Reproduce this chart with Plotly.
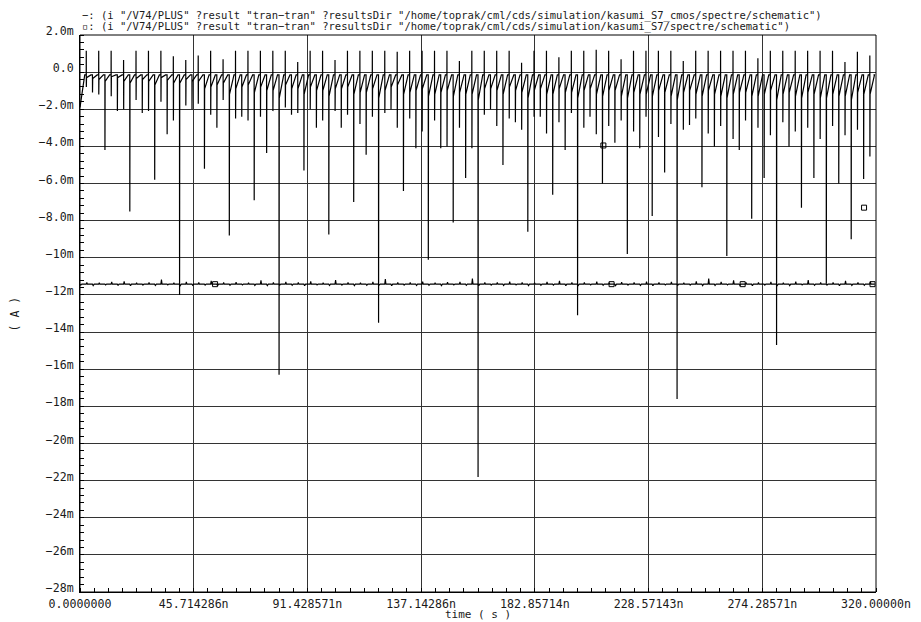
import plotly.graph_objects as go

# ---------------- data (time in ns, current in mA) ----------------
half_period_ns = 2.5
n_cycles = 64

# series 1 (kasumi_S7_cmos): minimum of downward spike at t = 0, 5, 10 ... 315 ns
dip_even = [-1.9, -1.1, -4.2, -2.1, -7.5, -2.2, -5.8, -3.35, -12.0, -2.0,
            -5.2, -3.0, -8.8, -2.4, -6.9, -4.35, -16.3, -2.3, -5.3, -3.0,
            -8.75, -3.0, -7.0, -4.45, -13.5, -2.0, -6.4, -4.1, -10.1, -4.1,
            -8.1, -5.7, -21.8, -2.0, -5.0, -2.7, -8.6, -2.4, -6.6, -4.2,
            -13.1, -2.4, -6.0, -3.8, -9.8, -4.1, -7.75, -5.4, -17.6, -2.85,
            -6.2, -4.0, -9.9, -4.2, -7.9, -5.7, -14.7, -4.0, -7.3, -5.7,
            -11.4, -6.0, -9.0, -5.75]
# minimum of downward spike at t = 2.5, 7.5 ... 317.5 ns
dip_odd = [-0.8, -1.2, -1.3, -2.0, -1.5, -2.1, -1.6, -2.6, -1.8, -1.7, -2.3, -1.5,
           -2.5, -2.6, -2.4, -2.1, -1.9, -2.2, -2.0, -2.6, -2.1, -2.3, -2.8, -2.4,
           -2.2, -3.0, -2.5, -3.2, -2.6, -4.0, -3.0, -4.1, -2.3, -2.9, -2.5, -3.1,
           -2.4, -3.3, -2.7, -2.2, -3.0, -3.35, -2.9, -2.6, -3.2, -2.4, -3.5, -2.8,
           -3.1, -2.5, -3.3, -2.9, -3.6, -2.6, -3.0, -3.4, -2.7, -3.2, -3.0, -3.6,
           -2.9, -3.4, -3.1, -4.55]
# maximum of upward spike at t = 2.5, 7.5 ... 317.5 ns
peak_odd = [1.15, 1.15, 1.15, 0.65, 1.15, 1.15, 1.15, 0.85, 0.65, 0.9, 1.15, 0.7,
            1.15, 1.15, 1.15, 1.15, 1.15, 0.55, 1.15, 1.15, 0.65, 1.15, 1.15, 1.15,
            1.15, 1.1, 1.15, 1.15, 1.15, 1.15, 0.6, 1.15, 1.15, 1.15, 1.15, 0.5,
            1.15, 1.15, 0.8, 1.15, 1.15, 1.2, 1.15, 0.7, 1.15, 1.15, 1.15, 1.15,
            0.6, 1.15, 1.15, 1.15, 1.15, 1.15, 0.75, 1.15, 1.15, 1.15, 1.15, 1.15,
            1.15, 0.55, 1.1, 0.9]
# level the current returns to after each edge
settle_even = [-1.9, -0.35, -0.5, -0.3, -0.6, -0.4, -0.7, -0.45, -0.6, -0.5,
               -0.9, -0.7, -1.2, -0.8, -1.1, -1.0, -1.4, -0.9, -1.2, -1.0,
               -1.3, -0.9, -1.2, -1.1, -1.4, -0.8, -1.2, -1.0, -1.3, -1.1,
               -1.3, -1.2, -1.5, -0.9, -1.2, -1.0, -1.4, -0.9, -1.2, -1.1,
               -1.4, -0.9, -1.3, -1.0, -1.4, -1.2, -1.3, -1.1, -1.5, -1.0,
               -1.3, -1.2, -1.4, -1.1, -1.3, -1.2, -1.5, -1.1, -1.4, -1.2,
               -1.4, -1.3, -1.5, -1.2]
settle_odd = [-0.3, -0.4, -0.25, -0.5, -0.35, -0.5, -0.3, -0.6, -0.4, -0.5,
              -0.8, -0.6, -0.9, -0.7, -0.8, -1.0, -0.7, -0.9, -0.8, -1.0,
              -0.9, -0.8, -1.1, -0.9, -1.0, -0.7, -1.1, -0.9, -1.2, -1.0,
              -1.1, -1.2, -0.9, -1.0, -0.8, -1.1, -1.0, -1.2, -0.9, -1.1,
              -1.0, -1.2, -1.0, -1.3, -1.1, -1.2, -1.0, -1.3, -1.1, -1.2,
              -1.0, -1.3, -1.2, -1.1, -1.3, -1.0, -1.2, -1.3, -1.1, -1.4,
              -1.2, -1.3, -1.1, -1.2]
ramp_top = -0.15

# series 2 (kasumi_S7): flat supply current with small glitches
s2_base = -11.42
s2_bump = [0.10, 0.08, 0.12, 0.15, 0.07, 0.10, 0.25, 0.08, 0.12, 0.10,
           0.18, 0.09, 0.11, 0.08, 0.20, 0.10, 0.12, 0.09, 0.15, 0.08,
           0.22, 0.10, 0.08, 0.12, 0.28, 0.10, 0.09, 0.14, 0.08, 0.11,
           0.12, 0.30, 0.10, 0.09, 0.13, 0.10, 0.08, 0.12, 0.18, 0.09,
           0.10, 0.14, 0.08, 0.11, 0.09, 0.13, 0.10, 0.12, 0.08, 0.15,
           0.30, 0.12, 0.20, 0.09, 0.10, 0.12, 0.08, 0.14, 0.22, 0.10,
           0.09, 0.18, 0.10, 0.12]
s2_dip = [-0.05, -0.08, -0.04, -0.06, -0.09, -0.05, -0.07, -0.04, -0.08, -0.06,
          -0.05, -0.09, -0.06, -0.04, -0.07, -0.08, -0.05, -0.06, -0.09, -0.04,
          -0.07, -0.05, -0.08, -0.06, -0.04, -0.09, -0.05, -0.07, -0.06, -0.08,
          -0.04, -0.06, -0.09, -0.05, -0.07, -0.04, -0.08, -0.06, -0.05, -0.09,
          -0.07, -0.04, -0.06, -0.08, -0.05, -0.07, -0.09, -0.04, -0.06, -0.05,
          -0.08, -0.07, -0.04, -0.06, -0.09, -0.05, -0.07, -0.08, -0.04, -0.06,
          -0.05, -0.09, -0.07, -0.06]

# identification markers
m1_t = [210.4, 315.2]
m1_v = [-3.95, -7.3]
m2_t = [54.3, 213.7, 266.4, 318.6]
m2_v = [-11.42, -11.42, -11.42, -11.42]

x_tick_vals = [0, 45.714286, 91.428571, 137.14286, 182.85714, 228.57143, 274.28571, 320]
x_tick_text = ["0.0000000", "45.714286n", "91.428571n", "137.14286n",
               "182.85714n", "228.57143n", "274.28571n", "320.00000n"]
y_tick_vals = [2, 0, -2, -4, -6, -8, -10, -12, -14, -16, -18, -20, -22, -24, -26, -28]
y_tick_text = ["2.0m", "0.0", "\u22122.0m", "\u22124.0m", "\u22126.0m", "\u22128.0m",
               "\u221210m", "\u221212m", "\u221214m", "\u221216m", "\u221218m",
               "\u221220m", "\u221222m", "\u221224m", "\u221226m", "\u221228m"]

title1 = '\u2212: (i "/V74/PLUS" ?result "tran\u2212tran" ?resultsDir "/home/toprak/cml/cds/simulation/kasumi_S7_cmos/spectre/schematic")'
title2 = '\u25ab: (i "/V74/PLUS" ?result "tran\u2212tran" ?resultsDir "/home/toprak/cml/cds/simulation/kasumi_S7/spectre/schematic")'

# ---------------- build waveforms ----------------
t1, v1 = [], []
for j in range(n_cycles):
    te = 2 * half_period_ns * j
    if j == 0:
        t1 += [te]
        v1 += [dip_even[0]]
    else:
        t1 += [te, te + 0.03, te + 0.1]
        v1 += [ramp_top, dip_even[j], settle_even[j]]
    t1 += [te + 1.9]
    v1 += [ramp_top]
    to = te + half_period_ns
    t1 += [to, to + 0.02, to + 0.05, to + 0.12, to + 1.9]
    v1 += [ramp_top, peak_odd[j], dip_odd[j], settle_odd[j], ramp_top]
t1 += [2 * half_period_ns * n_cycles - 1.0]
v1 += [ramp_top]

t2, v2 = [], []
for j in range(n_cycles):
    te = 2 * half_period_ns * j
    to = te + half_period_ns
    t2 += [te, te + 0.3, te + 0.7, to, to + 0.25, to + 0.5]
    v2 += [s2_base, s2_base + s2_dip[j], s2_base, s2_base, s2_base + s2_bump[j], s2_base]
t2 += [319.5]
v2 += [s2_base]

# ---------------- figure ----------------
mono = "DejaVu Sans Mono, Liberation Mono, monospace"
txt_col = "#1a1a1a"

fig = go.Figure()
fig.add_trace(go.Scatter(x=t1, y=v1, mode="lines", line=dict(color="black", width=1.2),
                         hoverinfo="skip"))
fig.add_trace(go.Scatter(x=t2, y=v2, mode="lines", line=dict(color="black", width=1.1),
                         hoverinfo="skip"))
fig.add_trace(go.Scatter(x=m1_t, y=m1_v, mode="markers",
                         marker=dict(symbol="square-open", size=5, color="black",
                                     line=dict(width=1, color="black")), hoverinfo="skip"))
fig.add_trace(go.Scatter(x=m2_t, y=m2_v, mode="markers",
                         marker=dict(symbol="square-open", size=5, color="black",
                                     line=dict(width=1, color="black")), hoverinfo="skip"))

grid_col = "#333333"
# the page body adds an 8 px offset, so the figure is laid out 8 px up/left
fig.update_layout(
    width=913, height=614,
    margin=dict(l=72, r=45, t=27, b=30),
    paper_bgcolor="white", plot_bgcolor="white",
    showlegend=False,
    font=dict(family=mono, color=txt_col, size=12),
    xaxis=dict(range=[0, 320], tickmode="array", tickvals=x_tick_vals, ticktext=x_tick_text,
               showgrid=True, gridcolor=grid_col, gridwidth=1, zeroline=False,
               showline=True, linecolor="black", linewidth=1, ticks="",
               ticklabelstandoff=1,
               tickfont=dict(size=11.6, family=mono, color=txt_col), automargin=False,
               minor=dict(tick0=0, dtick=320 / 56, ticks="inside", ticklen=4,
                          tickcolor="black", tickwidth=1, showgrid=False)),
    yaxis=dict(range=[-28, 2], tickmode="array", tickvals=y_tick_vals, ticktext=y_tick_text,
               showgrid=True, gridcolor=grid_col, gridwidth=1, zeroline=False,
               showline=True, linecolor="black", linewidth=1, ticks="",
               ticklabelshift=-4, ticklabelstandoff=3,
               tickfont=dict(size=11.6, family=mono, color=txt_col), automargin=False,
               minor=dict(tick0=0, dtick=0.4, ticks="inside", ticklen=4,
                          tickcolor="black", tickwidth=1, showgrid=False)),
)
fig.add_shape(type="rect", xref="paper", yref="paper", x0=0, y0=0, x1=1, y1=1,
              line=dict(color="black", width=1), fillcolor="rgba(0,0,0,0)", layer="above")

fig.add_annotation(text=title1, xref="paper", yref="paper", x=0.0, y=1.035,
                   xanchor="left", yanchor="middle", showarrow=False,
                   font=dict(size=10.5, family=mono, color=txt_col))
fig.add_annotation(text=title2, xref="paper", yref="paper", x=0.0, y=1.0153,
                   xanchor="left", yanchor="middle", showarrow=False,
                   font=dict(size=10.5, family=mono, color=txt_col))
fig.add_annotation(text="time ( s )", xref="paper", yref="paper", x=0.5, y=-0.0395,
                   xanchor="center", yanchor="middle", showarrow=False,
                   font=dict(size=11, family=mono, color=txt_col))
fig.add_annotation(text="( A )", xref="paper", yref="paper", x=-0.0817, y=0.5,
                   xanchor="center", yanchor="middle", showarrow=False, textangle=-90,
                   font=dict(size=11.5, family=mono, color=txt_col))

fig.write_html("out.html")
